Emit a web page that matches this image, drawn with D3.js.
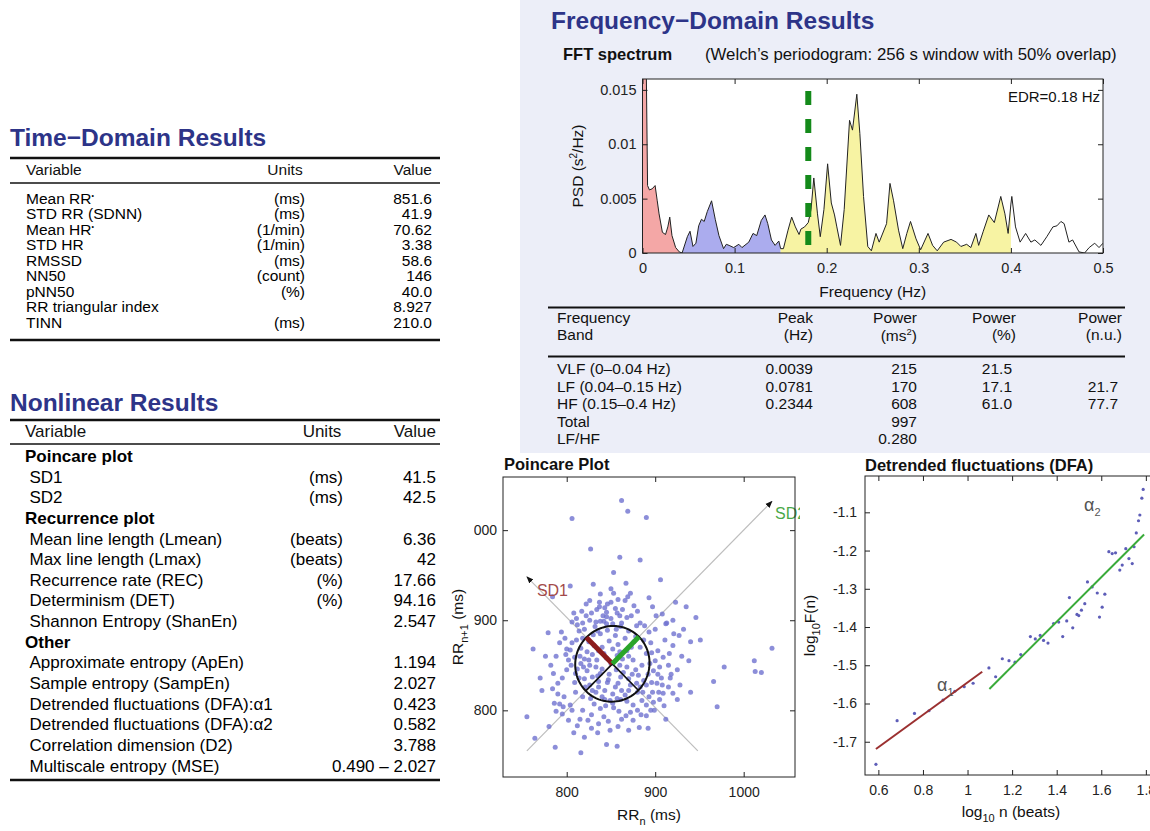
<!DOCTYPE html>
<html>
<head>
<meta charset="utf-8">
<script src="https://cdn.jsdelivr.net/npm/d3@7"></script>
<style>
body { margin: 0; background: #fff; }
svg { display: block; font-family: "Liberation Sans", Arial, Helvetica, sans-serif; }
</style>
</head>
<body>
<script>
// ---------- data ----------
var tdVariables = ["Mean RR", "STD RR (SDNN)", "Mean HR", "STD HR", "RMSSD", "NN50", "pNN50", "RR triangular index", "TINN"];
var tdUnits = ["(ms)", "(ms)", "(1/min)", "(1/min)", "(ms)", "(count)", "(%)", "", "(ms)"];
var tdValues = ["851.6", "41.9", "70.62", "3.38", "58.6", "146", "40.0", "8.927", "210.0"];
var tdStarred = ["Mean RR", "Mean HR"];

var nlVariables = ["Poincare plot", "SD1", "SD2", "Recurrence plot", "Mean line length (Lmean)", "Max line length (Lmax)",
    "Recurrence rate (REC)", "Determinism (DET)", "Shannon Entropy (ShanEn)", "Other", "Approximate entropy (ApEn)",
    "Sample entropy (SampEn)", "Detrended fluctuations (DFA):\u03b11", "Detrended fluctuations (DFA):\u03b12",
    "Correlation dimension (D2)", "Multiscale entropy (MSE)"];
var nlUnits = ["", "(ms)", "(ms)", "", "(beats)", "(beats)", "(%)", "(%)", "", "", "", "", "", "", "", ""];
var nlValues = ["", "41.5", "42.5", "", "6.36", "42", "17.66", "94.16", "2.547", "", "1.194", "2.027", "0.423", "0.582", "3.788", "0.490 \u2013 2.027"];
var nlGroups = ["Poincare plot", "Recurrence plot", "Other"];

var fdBands = ["VLF (0\u20130.04 Hz)", "LF (0.04\u20130.15 Hz)", "HF (0.15\u20130.4 Hz)", "Total", "LF/HF"];
var fdPeak = ["0.0039", "0.0781", "0.2344", "", ""];
var fdPowerMs = ["215", "170", "608", "997", "0.280"];
var fdPowerPct = ["21.5", "17.1", "61.0", "", ""];
var fdPowerNu = ["", "21.7", "77.7", "", ""];

var specFreq = [0, 0.0039, 0.0055, 0.0075, 0.0105, 0.0137, 0.016, 0.018, 0.0216, 0.025, 0.0275, 0.0296, 0.032, 0.036, 0.04,
    0.043, 0.0487, 0.0516, 0.0548, 0.058, 0.061, 0.064, 0.067, 0.0703, 0.075, 0.079, 0.083, 0.088, 0.091, 0.094, 0.099, 0.1046, 0.108, 0.1154, 0.12, 0.124, 0.129, 0.133, 0.136, 0.14, 0.144, 0.148, 0.15,
    0.153, 0.158, 0.162, 0.166, 0.17, 0.172, 0.176, 0.18, 0.183, 0.186, 0.19, 0.193, 0.197, 0.201, 0.205, 0.2085, 0.211, 0.215, 0.219, 0.2248, 0.228, 0.2327, 0.236, 0.24, 0.2446, 0.2485, 0.2535, 0.257, 0.265, 0.2687, 0.2726, 0.278, 0.2826, 0.287, 0.291, 0.297, 0.302, 0.31, 0.315, 0.32, 0.327, 0.335, 0.341, 0.3457, 0.352, 0.3565, 0.362, 0.365, 0.37, 0.376, 0.382, 0.389, 0.3935, 0.397, 0.4,
    0.401, 0.405, 0.41, 0.416, 0.4217, 0.426, 0.4326, 0.439, 0.4456, 0.45, 0.4543, 0.4578, 0.463, 0.467, 0.474, 0.48, 0.485, 0.491, 0.4957, 0.5];
var specPsd = [0.0165, 0.0185, 0.0062, 0.0058, 0.0059, 0.0062, 0.0048, 0.0036, 0.0019, 0.0017, 0.0024, 0.0033, 0.0016, 0.0005, 0.0001,
    0.0000, 0.0015, 0.0020, 0.0006, 0.0009, 0.0025, 0.0031, 0.0029, 0.0038, 0.0048, 0.0031, 0.0016, 0.0004, 0.0008, 0.0007, 0.0005, 0.0008, 0.0005, 0.0010, 0.0018, 0.0016, 0.0030, 0.0035, 0.0027, 0.0012, 0.0007, 0.0011, 0.0004,
    0.0004, 0.0021, 0.0033, 0.0024, 0.0017, 0.0022, 0.0024, 0.0028, 0.0040, 0.0069, 0.0036, 0.0015, 0.0040, 0.0082, 0.0046, 0.0035, 0.0024, 0.0007, 0.0040, 0.0122, 0.0113, 0.0146, 0.0110, 0.0052, 0.0006, 0.0002, 0.0018, 0.0010, 0.0027, 0.0064, 0.0048, 0.0021, 0.0004, 0.0018, 0.0029, 0.0013, 0.0003, 0.0018, 0.0007, 0.0002, 0.0010, 0.00125, 0.0010, 0.0006, 0.0008, 0.0005, 0.0018, 0.0007, 0.0020, 0.0035, 0.0028, 0.0052, 0.0036, 0.0018, 0.0045,
    0.0052, 0.0024, 0.0010, 0.0018, 0.0010, 0.0012, 0.0007, 0.0015, 0.0024, 0.0025, 0.0029, 0.0027, 0.0010, 0.0012, 0.0001, 0.0000, 0.0005, 0.0009, 0.0005, 0.0009];
var bandLo = [0, 0.04, 0.15];
var bandHi = [0.04, 0.15, 0.4];
var bandFill = ["#f4a7a6", "#abacee", "#f7f3a3"];
var edrFreq = 0.18;
var specXTicks = [0, 0.1, 0.2, 0.3, 0.4, 0.5];
var specYTicks = [0, 0.005, 0.01, 0.015];

var meanRR = 851.6, sd1 = 41.5, sd2 = 42.5;
var poincarePairs = [
    [862,1033],[869,1021],[890,1014],[806,1013],[827,979],[860,970],[883,967],[853,953],[906,945],[804,938],
    [784,926],[867,941],[850,935],[838,929],[858,923],[869,926],[866,922],[826,922],[822,918],[837,920],
    [837,915],[846,918],[876,916],[923,920],[935,915],[855,913],[857,908],[860,905],[808,908],[811,902],
    [806,898],[908,907],[946,903],[913,897],[845,909],[845,904],[842,899],[833,898],[818,897],[883,897],
    [779,886],[794,887],[762,868],[770,836],[772,822],[755,793],[764,769],[780,782],[787,759],[784,824],
    [785,841],[788,860],[795,836],[800,868],[802,856],[786,808],[792,807],[788,799],[795,796],[802,789],
    [804,806],[812,783],[816,753],[824,789],[836,785],[845,762],[857,760],[849,778],[870,778],[875,789],
    [867,794],[859,799],[882,781],[892,780],[890,794],[898,809],[899,800],[910,805],[912,790],[909,819],
    [920,819],[928,828],[917,836],[907,836],[938,855],[916,863],[909,859],[903,866],[912,896],[911,878],
    [921,885],[927,883],[940,876],[951,878],[893,887],[888,894],[879,894],[966,832],[978,848],[970,804],
    [1012,855],[1013,843],[1020,842],[1032,869],
    [811,878],[804,867],[809,859],[816,869],[823,865],[831,872],[838,885],[846,889],[855,883],[861,893],
    [866,880],[834,856],[842,863],[823,844],[829,837],[838,841],[846,831],[855,826],[861,837],[868,848],
    [875,856],[881,839],[887,833],[890,828],[896,831],[883,826],[872,828],[866,817],[857,813],[849,811],
    [840,815],[833,820],[827,813],[821,826],[818,815],[809,831],[810,841],[816,852],[873,870],[883,870],
    [890,863],[894,852],[898,844],[902,830],[904,820],[885,811],[875,806],[890,806],[838,802],[844,805],
    [831,807],[857,861],[850,852],[863,857],[833,848],[825,856],
    [812,895],[820,890],[826,900],[832,893],[838,899],[845,896],[850,902],[856,890],[862,897],[868,903],
    [841,905],[830,884],[818,880],[870,888],[878,882],[835,888],[848,877],[858,873],[825,876],
    [815,860],[820,835],[826,828],[836,832],[843,822],[852,818],[862,822],[870,835],[878,845],[885,850],
    [892,840],[880,820],[868,810],[853,803],[828,795],[818,800],[810,820],[800,845],[806,875],[798,880],
    [822,905],[850,920],[863,912],[873,905],[880,910],[897,915],[900,890],[895,875],[920,872],[930,860],
    [925,845],[915,826],[897,820],[905,812],[880,800],[862,790],[842,793],[835,775],[820,770],[808,775],
    [797,815],[790,830],[812,846],[840,870],[860,865],[870,860],[848,840],[856,845],[835,838],[900,855],
    [905,848],[915,850],
    [814,888],[828,908],[834,912],[843,914],[852,896],[829,862],[836,866],[845,858],[852,868],[819,848],
    [826,850],[840,846],[847,834],[858,830],[864,842],[874,840],[879,830],[886,820],[893,815],[870,822],
    [861,812],[852,808],[843,812],[836,826],[829,822],[814,836],[805,850],[799,862],[820,857],[860,850],
    [868,866],[876,876],[887,878],[896,864],[903,840],[908,828],[895,800],[884,795],[872,798],[858,782],
    [847,788],[828,780],[815,790],[806,800],[796,804],[790,818],[782,850],[776,860],[792,875],[817,910],
    [853,930],[830,940],[872,930],[893,925],[901,905],[920,900],[932,890],[918,840],[925,812],[940,820]];
var poincareTicks = [800, 900, 1000];

var dfaLogN = [0.589, 0.684, 0.762, 0.827, 0.890, 0.943, 0.985, 1.025, 1.096, 1.126, 1.156, 1.186, 1.213, 1.239, 1.282,
    1.304, 1.326, 1.341, 1.361, 1.386, 1.409, 1.427, 1.445, 1.457, 1.472, 1.491, 1.499, 1.511, 1.526, 1.538,
    1.559, 1.582, 1.592, 1.604, 1.616, 1.634, 1.649, 1.664, 1.683, 1.694, 1.710, 1.724, 1.739, 1.747, 1.757,
    1.767, 1.773, 1.782, 1.788];
var dfaLogF = [-1.759, -1.645, -1.626, -1.619, -1.591, -1.568, -1.556, -1.547, -1.507, -1.530, -1.483, -1.488, -1.492, -1.472, -1.425,
    -1.431, -1.422, -1.435, -1.442, -1.391, -1.387, -1.425, -1.384, -1.323, -1.402, -1.367, -1.370, -1.356, -1.339, -1.282,
    -1.295, -1.311, -1.374, -1.348, -1.314, -1.203, -1.208, -1.206, -1.251, -1.238, -1.195, -1.221, -1.234, -1.190, -1.154,
    -1.122, -1.107, -1.063, -1.040];
var dfaAlpha = [0.423, 0.582];
var dfaIntercept = [-1.968, -2.201];
var dfaFitFrom = [0.589, 1.098];
var dfaFitTo = [1.066, 1.792];
var dfaXTicks = [0.6, 0.8, 1, 1.2, 1.4, 1.6, 1.8];
var dfaYTicks = [-1.7, -1.6, -1.5, -1.4, -1.3, -1.2, -1.1];

// ---------- page ----------
var titleColor = "#2d3488";
var svg = d3.select("body").append("svg")
    .attr("width", 1150)
    .attr("height", 831);
var defs = svg.append("defs");

function rule(y, x0, x1, w) {
    svg.append("line")
        .attr("x1", x0).attr("x2", x1)
        .attr("y1", y).attr("y2", y)
        .attr("stroke", "#111")
        .attr("stroke-width", w);
}

function label(g, x, y, s, size, anchor, weight) {
    return g.append("text")
        .attr("x", x).attr("y", y)
        .attr("font-size", size + "px")
        .attr("text-anchor", anchor || "start")
        .attr("font-weight", weight || "normal")
        .attr("fill", "#111")
        .text(s);
}

// ---------- Time-domain table ----------
label(svg, 10, 146, "Time\u2212Domain Results", 24.5, "start", "bold").attr("fill", titleColor);
rule(158, 10, 440, 2.5);
label(svg, 26, 175, "Variable", 15.5);
label(svg, 285, 175, "Units", 15.5, "middle");
label(svg, 432, 175, "Value", 15.5, "end");
rule(183, 10, 440, 1.5);

var tdY = d3.scaleLinear().domain([0, tdVariables.length - 1]).range([203.5, 328]);
svg.selectAll(".tdvar").data(tdVariables).enter().append("text")
    .attr("class", "tdvar")
    .attr("x", 26)
    .attr("y", function(d, i) { return tdY(i); })
    .attr("font-size", "15.5px")
    .text(function(d) { return d; })
    .each(function(d) {
        if (tdStarred.indexOf(d) >= 0) {
            d3.select(this).append("tspan").attr("font-size", "7px").attr("dy", -6).text("\u2022");
        }
    });
svg.selectAll(".tdunit").data(tdUnits).enter().append("text")
    .attr("x", 305)
    .attr("y", function(d, i) { return tdY(i); })
    .attr("font-size", "15.5px")
    .attr("text-anchor", "end")
    .text(function(d) { return d; });
svg.selectAll(".tdval").data(tdValues).enter().append("text")
    .attr("x", 432)
    .attr("y", function(d, i) { return tdY(i); })
    .attr("font-size", "15.5px")
    .attr("text-anchor", "end")
    .text(function(d) { return d; });
rule(340, 10, 440, 2.5);

// ---------- Nonlinear table ----------
label(svg, 10, 411, "Nonlinear Results", 24.5, "start", "bold").attr("fill", titleColor);
rule(420, 10, 440, 2.5);
label(svg, 25, 437, "Variable", 17);
label(svg, 322, 437, "Units", 17, "middle");
label(svg, 436, 437, "Value", 17, "end");
rule(444, 10, 440, 1.5);

var nlY = d3.scaleLinear().domain([0, nlVariables.length - 1]).range([462, 771.5]);
svg.selectAll(".nlvar").data(nlVariables).enter().append("text")
    .attr("x", function(d) { return nlGroups.indexOf(d) >= 0 ? 25 : 29.5; })
    .attr("y", function(d, i) { return nlY(i); })
    .attr("font-size", "17px")
    .attr("font-weight", function(d) { return nlGroups.indexOf(d) >= 0 ? "bold" : "normal"; })
    .text(function(d) { return d; });
svg.selectAll(".nlunit").data(nlUnits).enter().append("text")
    .attr("x", 343)
    .attr("y", function(d, i) { return nlY(i); })
    .attr("font-size", "17px")
    .attr("text-anchor", "end")
    .text(function(d) { return d; });
svg.selectAll(".nlval").data(nlValues).enter().append("text")
    .attr("x", 436)
    .attr("y", function(d, i) { return nlY(i); })
    .attr("font-size", "17px")
    .attr("text-anchor", "end")
    .text(function(d) { return d; });
rule(780, 10, 440, 2.5);

// ---------- Frequency-domain panel ----------
svg.append("rect")
    .attr("x", 520).attr("y", 0)
    .attr("width", 630).attr("height", 453)
    .attr("fill", "#eceef8");
label(svg, 551, 29, "Frequency\u2212Domain Results", 24.5, "start", "bold").attr("fill", titleColor);
label(svg, 563, 60, "FFT spectrum", 16.5, "start", "bold");
label(svg, 705, 60, "(Welch\u2019s periodogram: 256 s window with 50% overlap)", 16.8);

var sp = {left: 642.5, top: 79, w: 460.5, h: 174};
var sx = d3.scaleLinear().domain([0, 0.5]).range([0, sp.w]);
var sy = d3.scaleLinear().domain([0, 0.016]).range([sp.h, 0]);
var gs = svg.append("g").attr("transform", "translate(" + sp.left + "," + sp.top + ")");
gs.append("rect").attr("width", sp.w).attr("height", sp.h).attr("fill", "#fff");
defs.append("clipPath").attr("id", "specClip")
    .append("rect").attr("width", sp.w).attr("height", sp.h);

var specData = d3.zip(specFreq, specPsd);
var area = d3.area()
    .x(function(d) { return sx(d[0]); })
    .y0(sp.h)
    .y1(function(d) { return sy(d[1]); });
var plot = gs.append("g").attr("clip-path", "url(#specClip)");
bandLo.forEach(function(lo, i) {
    var pts = specData.filter(function(d) { return d[0] >= lo && d[0] <= bandHi[i]; });
    plot.append("path").datum(pts).attr("d", area).attr("fill", bandFill[i]);
});
plot.append("path").datum(specData)
    .attr("d", d3.line().x(function(d) { return sx(d[0]); }).y(function(d) { return sy(d[1]); }))
    .attr("fill", "none")
    .attr("stroke", "#222")
    .attr("stroke-width", 1);
plot.append("line")
    .attr("x1", sx(edrFreq)).attr("x2", sx(edrFreq))
    .attr("y1", sy(0.0149)).attr("y2", sp.h)
    .attr("stroke", "#148a1a")
    .attr("stroke-width", 6)
    .attr("stroke-dasharray", "14,14");
label(gs, sp.w - 3, 23, "EDR=" + edrFreq + " Hz", 15, "end");

function boxAxes(g, x, y, w, h, xt, yt, xf, yf, padX, padY, size) {
    var gx = g.append("g").attr("transform", "translate(0," + h + ")")
        .call(d3.axisBottom(x).tickValues(xt).tickFormat(xf).tickSizeInner(-5).tickSizeOuter(0).tickPadding(padX));
    var gt = g.append("g")
        .call(d3.axisTop(x).tickValues(xt).tickFormat("").tickSizeInner(-5).tickSizeOuter(0));
    var gy = g.append("g")
        .call(d3.axisLeft(y).tickValues(yt).tickFormat(yf).tickSizeInner(-5).tickSizeOuter(0).tickPadding(padY));
    var gr = g.append("g").attr("transform", "translate(" + w + ",0)")
        .call(d3.axisRight(y).tickValues(yt).tickFormat("").tickSizeInner(-5).tickSizeOuter(0));
    [gx, gt, gy, gr].forEach(function(a) {
        a.select(".domain").remove();
        a.attr("font-family", null).attr("font-size", size + "px").attr("color", "#222");
    });
    g.append("rect").attr("width", w).attr("height", h)
        .attr("fill", "none").attr("stroke", "#222").attr("stroke-width", 1);
    return gy;
}
boxAxes(gs, sx, sy, sp.w, sp.h, specXTicks, specYTicks,
    function(d) { return String(d); }, function(d) { return String(d); }, 10, 6, 14.5);

var psdLabel = svg.append("text")
    .attr("transform", "translate(583,166) rotate(-90)")
    .attr("text-anchor", "middle")
    .attr("font-size", "15.5px")
    .attr("fill", "#111");
psdLabel.append("tspan").text("PSD (s");
psdLabel.append("tspan").attr("font-size", "10px").attr("dy", -6).text("2");
psdLabel.append("tspan").attr("dy", 6).text("/Hz)");
label(svg, sp.left + sp.w / 2, 297, "Frequency (Hz)", 15.5, "middle");

// frequency table
rule(307.5, 548, 1125, 2);
var colEnd = [813, 917, 1016, 1122];
var fdSize = 15.5;
label(svg, 557, 323, "Frequency", fdSize);
label(svg, 557, 340, "Band", fdSize);
label(svg, colEnd[0], 323, "Peak", fdSize, "end");
label(svg, colEnd[0], 340, "(Hz)", fdSize, "end");
label(svg, colEnd[1], 323, "Power", fdSize, "end");
var ms2 = label(svg, colEnd[1], 341, "(ms", fdSize, "end");
ms2.append("tspan").attr("font-size", "9.5px").attr("dy", -6).text("2");
ms2.append("tspan").attr("dy", 6).text(")");
label(svg, colEnd[2], 323, "Power", fdSize, "end");
label(svg, colEnd[2], 340, "(%)", fdSize, "end");
label(svg, colEnd[3], 323, "Power", fdSize, "end");
label(svg, colEnd[3], 340, "(n.u.)", fdSize, "end");
rule(356.5, 548, 1125, 2);

var fdY = d3.scaleLinear().domain([0, fdBands.length - 1]).range([374, 444]);
[fdBands, fdPeak, fdPowerMs, fdPowerPct, fdPowerNu].forEach(function(col, c) {
    svg.append("g").selectAll("text").data(col).enter().append("text")
        .attr("x", c === 0 ? 557 : colEnd[c - 1] - (c >= 3 ? 4 : 0))
        .attr("y", function(d, i) { return fdY(i); })
        .attr("font-size", fdSize + "px")
        .attr("text-anchor", c === 0 ? "start" : "end")
        .attr("fill", "#111")
        .text(function(d) { return d; });
});

// ---------- Poincare plot ----------
label(svg, 504, 470, "Poincare Plot", 16.5, "start", "bold");
var pc = {left: 503, top: 477, w: 292, h: 300};
var px = d3.scaleLinear().domain([728, 1058]).range([0, pc.w]);
var py = d3.scaleLinear().domain([726, 1059]).range([pc.h, 0]);
defs.append("clipPath").attr("id", "pcClip")
    .append("rect").attr("x", 474 - pc.left).attr("y", -30).attr("width", 800 - 474).attr("height", 380);
var gpo = svg.append("g").attr("transform", "translate(" + pc.left + "," + pc.top + ")");
var gp = gpo.append("g").attr("clip-path", "url(#pcClip)");

defs.append("marker").attr("id", "arrow")
    .attr("viewBox", "0 0 10 10").attr("refX", 9).attr("refY", 5)
    .attr("markerWidth", 6).attr("markerHeight", 6).attr("orient", "auto")
    .append("path").attr("d", "M0,1L10,5L0,9z").attr("fill", "#111");

var rrMin = d3.min(poincarePairs, function(d) { return d[0]; });
var rrMax = d3.max(poincarePairs, function(d) { return d[0]; });
gp.append("line")
    .attr("x1", px(rrMin)).attr("y1", py(rrMin))
    .attr("x2", px(rrMax)).attr("y2", py(rrMax))
    .attr("stroke", "#bdbdbd").attr("stroke-width", 1.2)
    .attr("marker-end", "url(#arrow)");
gp.append("line")
    .attr("x1", px(2 * meanRR - rrMin)).attr("y1", py(rrMin))
    .attr("x2", px(rrMin)).attr("y2", py(2 * meanRR - rrMin))
    .attr("stroke", "#bdbdbd").attr("stroke-width", 1.2)
    .attr("marker-end", "url(#arrow)");

gp.selectAll("circle.pt").data(poincarePairs).enter().append("circle")
    .attr("class", "pt")
    .attr("cx", function(d) { return px(d[0]); })
    .attr("cy", function(d) { return py(d[1]); })
    .attr("r", 2.5)
    .attr("fill", "#6f72cf")
    .attr("fill-opacity", 0.8);

var k = Math.SQRT1_2;
var ellipse = d3.range(0, 361, 4).map(function(a) {
    var t = a * Math.PI / 180;
    return [meanRR + sd2 * Math.cos(t) * k - sd1 * Math.sin(t) * k,
            meanRR + sd2 * Math.cos(t) * k + sd1 * Math.sin(t) * k];
});
gp.append("path").datum(ellipse)
    .attr("d", d3.line().x(function(d) { return px(d[0]); }).y(function(d) { return py(d[1]); }))
    .attr("fill", "none").attr("stroke", "#111").attr("stroke-width", 2);

function seg(dx, dy, color, w) {
    gp.append("line")
        .attr("x1", px(meanRR)).attr("y1", py(meanRR))
        .attr("x2", px(meanRR + dx)).attr("y2", py(meanRR + dy))
        .attr("stroke", color).attr("stroke-width", w);
}
seg(-sd2 * k, -sd2 * k, "#111", 1.6);
seg(sd1 * k, -sd1 * k, "#111", 1.6);
seg(-sd1 * k, sd1 * k, "#8c1c1c", 5);
seg(sd2 * k, sd2 * k, "#2aa52a", 5);

label(gp, px(rrMin) + 10, py(2 * meanRR - rrMin) + 19, "SD1", 16).attr("fill", "#a34a4a");
label(gp, px(rrMax) + 3, py(rrMax) + 18, "SD2", 16).attr("fill", "#4aa84a");

boxAxes(gp, px, py, pc.w, pc.h, poincareTicks, poincareTicks,
    function(d) { return String(d); }, function(d) { return String(d); }, 10, 6, 14);

var pxl = label(svg, pc.left + pc.w / 2, 820, "RR", 15.5, "middle");
pxl.append("tspan").attr("font-size", "11px").attr("dy", 5).text("n");
pxl.append("tspan").attr("dy", -5).text(" (ms)");
var pyl = svg.append("text")
    .attr("transform", "translate(463," + (pc.top + pc.h / 2) + ") rotate(-90)")
    .attr("text-anchor", "middle").attr("font-size", "15.5px").attr("fill", "#111");
pyl.append("tspan").text("RR");
pyl.append("tspan").attr("font-size", "11px").attr("dy", 5).text("n+1");
pyl.append("tspan").attr("dy", -5).text(" (ms)");

// ---------- DFA plot ----------
label(svg, 865, 471, "Detrended fluctuations (DFA)", 16.5, "start", "bold");
var df = {left: 865, top: 476, w: 292, h: 299};
var dx = d3.scaleLinear().domain([0.54, 1.85]).range([0, df.w]);
var dy = d3.scaleLinear().domain([-1.787, -1.005]).range([df.h, 0]);
var gd = svg.append("g").attr("transform", "translate(" + df.left + "," + df.top + ")");

gd.selectAll("circle.pt").data(d3.zip(dfaLogN, dfaLogF)).enter().append("circle")
    .attr("class", "pt")
    .attr("cx", function(d) { return dx(d[0]); })
    .attr("cy", function(d) { return dy(d[1]); })
    .attr("r", 1.6)
    .attr("fill", "#5d5db8");

var fitColor = ["#9b3030", "#3aab3a"];
dfaAlpha.forEach(function(a, i) {
    gd.append("line")
        .attr("x1", dx(dfaFitFrom[i])).attr("y1", dy(dfaIntercept[i] + a * dfaFitFrom[i]))
        .attr("x2", dx(dfaFitTo[i])).attr("y2", dy(dfaIntercept[i] + a * dfaFitTo[i]))
        .attr("stroke", fitColor[i]).attr("stroke-width", 2);
});
var a1 = label(gd, 937 - df.left, 691 - df.top, "\u03b1", 18).attr("fill", "#555");
a1.append("tspan").attr("font-size", "11px").attr("dy", 5).text("1");
var a2 = label(gd, 1084 - df.left, 511 - df.top, "\u03b1", 18).attr("fill", "#555");
a2.append("tspan").attr("font-size", "11px").attr("dy", 5).text("2");

boxAxes(gd, dx, dy, df.w, df.h, dfaXTicks, dfaYTicks,
    function(d) { return String(d); }, function(d) { return String(d); }, 10, 8, 14);

var dxl = label(svg, 1011, 817, "log", 15.5, "middle");
dxl.append("tspan").attr("font-size", "11px").attr("dy", 5).text("10");
dxl.append("tspan").attr("dy", -5).text(" n (beats)");
var dyl = svg.append("text")
    .attr("transform", "translate(815," + (df.top + df.h / 2) + ") rotate(-90)")
    .attr("text-anchor", "middle").attr("font-size", "15.5px").attr("fill", "#111");
dyl.append("tspan").text("log");
dyl.append("tspan").attr("font-size", "11px").attr("dy", 5).text("10");
dyl.append("tspan").attr("dy", -5).text("F(n)");
</script>
</body>
</html>
